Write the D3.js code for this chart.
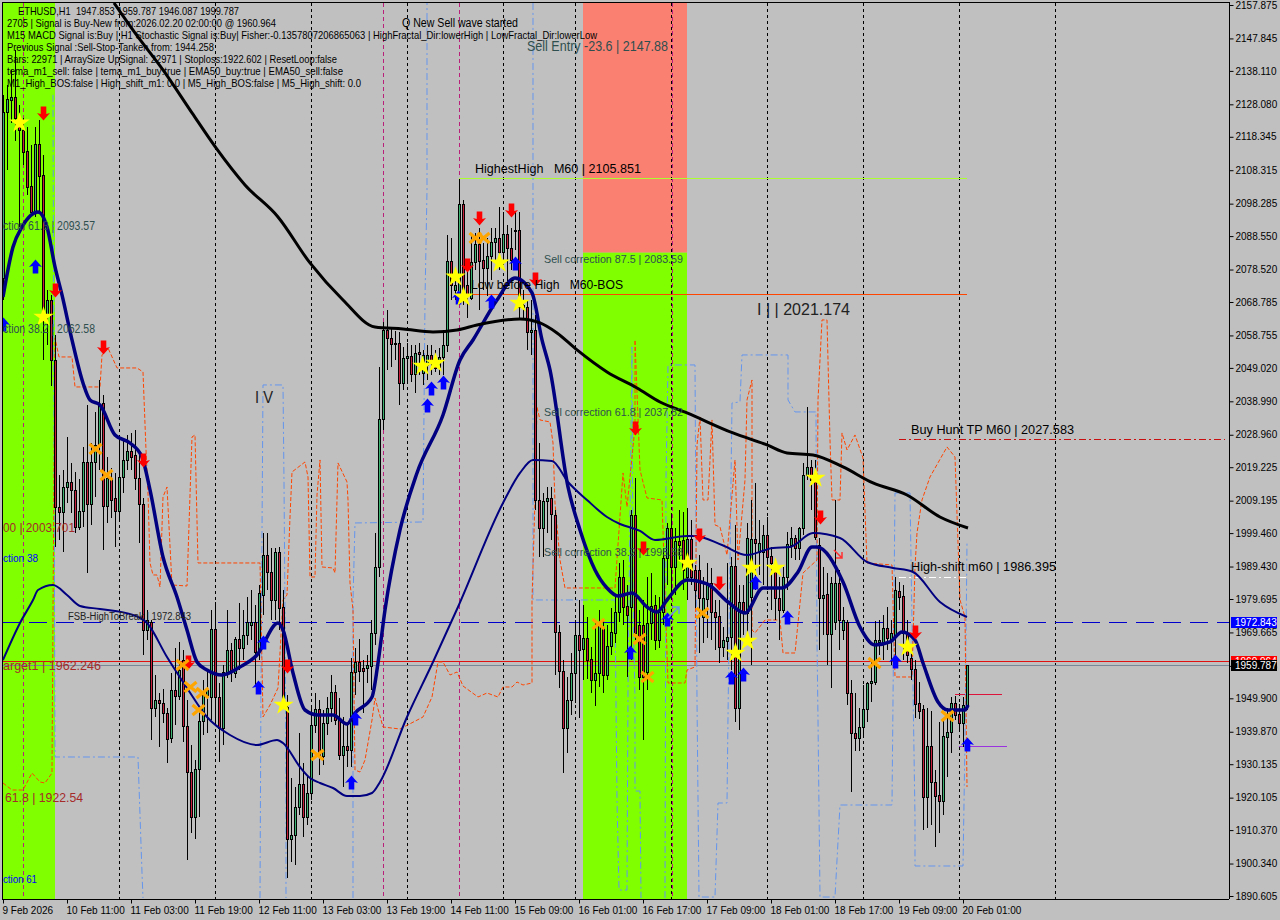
<!DOCTYPE html>
<html><head><meta charset="utf-8">
<script src="https://cdn.jsdelivr.net/npm/d3@7"></script>
<style>html,body{margin:0;padding:0;background:#c0c0c0;overflow:hidden}svg{display:block}text{font-family:"Liberation Sans",Arial,sans-serif}</style>
</head><body><svg id="c" width="1280" height="920"></svg>
<script>
const priceTicks=[2157.875,2147.845,2138.110,2128.080,2118.345,2108.315,2098.285,2088.550,2078.520,2068.785,2058.755,2049.020,2038.990,2028.960,2019.225,2009.195,1999.460,1989.430,1979.695,1969.665,1959.635,1949.900,1939.870,1930.135,1920.105,1910.370,1900.340,1890.605];
const timeTickBars=[0,16,32,48,64,80,96,112,128,144,160,176,192,208,224,240];
const timeTickLabels=["9 Feb 2026","10 Feb 11:00","11 Feb 03:00","11 Feb 19:00","12 Feb 11:00","13 Feb 03:00","13 Feb 19:00","14 Feb 11:00","15 Feb 09:00","16 Feb 01:00","16 Feb 17:00","17 Feb 09:00","18 Feb 01:00","18 Feb 17:00","19 Feb 09:00","20 Feb 01:00"];
const periodSeparators=[29,53,77,101,125,143,167,191,215,239,263];
const magentaLines=[5,95,114,167.25];
// open, high, low, close per hourly bar
const ohlc=[[2076.0,2130.9,2069.4,2125.8],[2125.8,2133.9,2108.4,2129.7],[2129.4,2138.4,2122.5,2130.3],[2130.3,2144.4,2117.1,2124.0],[2124.0,2127.9,2091.3,2120.4],[2120.4,2124.0,2109.9,2113.8],[2114.1,2121.3,2100.9,2103.3],[2103.6,2115.9,2094.6,2095.8],[2095.5,2121.3,2094.3,2116.2],[2116.2,2123.4,2095.8,2106.6],
[2106.9,2112.9,2051.4,2066.4],[2064.9,2072.4,2055.9,2069.4],[2069.4,2070.9,2043.6,2051.4],[2051.4,2058.9,1995.3,2007.3],[2007.3,2016.9,1997.4,2005.8],[2005.8,2018.4,1993.8,2013.3],[2013.3,2028.3,2008.5,2014.8],[2014.8,2020.5,2005.5,2012.4],[2012.4,2017.8,1999.5,2001.3],[2001.3,2015.7,2000.4,2006.1],
[2006.1,2025.3,2001.3,2020.8],[2020.8,2037.9,1987.5,2008.2],[2008.2,2026.5,2001.9,2020.8],[2020.8,2035.8,2010.3,2025.9],[2026.2,2045.4,2018.4,2037.9],[2038.5,2040.9,1994.4,2007.6],[2007.6,2022.3,2002.5,2016.0],[2016.0,2019.0,2004.0,2009.4],[2010.0,2017.5,1995.3,2006.1],[2006.1,2028.3,2003.4,2016.3],
[2016.3,2027.4,2011.5,2021.4],[2021.4,2028.9,2018.4,2024.1],[2024.1,2029.5,2018.4,2022.3],[2022.9,2030.4,2012.4,2016.0],[2016.0,2022.9,1996.5,2008.2],[2008.2,2010.0,1962.9,1970.4],[1970.4,1976.4,1967.4,1973.4],[1972.8,1973.4,1937.4,1947.0],[1947.0,1956.9,1944.3,1949.4],[1949.4,1951.5,1935.3,1948.5],
[1948.5,1952.7,1942.5,1945.5],[1945.5,1947.0,1930.5,1937.7],[1938.0,1957.5,1936.5,1952.4],[1952.4,1965.0,1941.9,1950.6],[1950.6,1966.8,1949.4,1958.4],[1961.4,1964.4,1936.8,1941.6],[1941.6,1949.4,1901.4,1927.8],[1927.8,1935.9,1909.5,1914.3],[1914.3,1931.4,1907.7,1928.7],[1928.7,1947.3,1914.3,1943.1],
[1943.1,1955.4,1938.9,1950.9],[1950.9,1958.4,1939.5,1952.4],[1950.3,1976.4,1943.4,1970.7],[1970.7,1978.8,1942.5,1950.3],[1950.3,1954.5,1930.8,1941.0],[1941.0,1959.9,1935.9,1957.8],[1957.8,1976.4,1956.0,1964.4],[1964.4,1966.5,1954.8,1957.8],[1957.5,1968.3,1956.0,1967.7],[1967.7,1978.5,1958.4,1965.0],
[1965.0,1976.4,1961.4,1968.9],[1968.9,1980.3,1965.9,1972.8],[1971.9,1982.4,1967.4,1972.8],[1972.8,1977.9,1953.3,1963.8],[1964.4,1983.9,1961.4,1981.5],[1980.9,1999.5,1974.9,1992.9],[1992.9,1999.5,1982.4,1987.8],[1987.8,1995.0,1973.4,1979.4],[1979.4,1995.0,1973.4,1993.8],[1993.8,1995.3,1970.4,1977.0],
[1977.3,1982.4,1947.9,1949.4],[1947.3,1950.9,1896.0,1907.7],[1907.7,1926.0,1900.8,1908.9],[1908.9,1923.3,1899.9,1917.3],[1917.3,1939.5,1914.9,1924.2],[1924.2,1930.5,1908.3,1914.3],[1914.3,1926.9,1911.9,1921.5],[1921.5,1947.3,1919.4,1941.9],[1941.9,1951.5,1939.5,1946.7],[1946.7,1949.4,1926.9,1932.9],
[1932.6,1946.4,1929.9,1942.5],[1942.5,1950.3,1938.9,1947.0],[1947.0,1956.9,1942.8,1951.8],[1951.8,1953.9,1941.9,1943.4],[1943.4,1950.0,1931.4,1932.9],[1932.9,1944.3,1923.3,1935.6],[1935.6,1941.9,1929.3,1934.4],[1934.4,1962.0,1929.3,1957.8],[1957.8,1965.0,1950.9,1960.8],[1960.8,1967.7,1954.8,1958.1],
[1959.0,1961.4,1945.5,1958.1],[1959.0,1962.9,1954.5,1959.9],[1959.6,1973.4,1952.4,1969.5],[1969.5,1999.5,1965.9,1989.3],[1989.3,2049.3,1986.3,2033.7],[2033.7,2062.8,2030.4,2060.4],[2060.4,2066.4,2048.4,2058.0],[2058.0,2061.0,2049.3,2056.2],[2056.5,2060.1,2051.4,2056.2],[2056.5,2059.8,2037.9,2044.5],
[2044.5,2055.3,2042.4,2052.0],[2052.0,2056.5,2044.8,2052.6],[2052.6,2055.9,2044.8,2047.2],[2047.2,2055.9,2041.5,2053.5],[2053.8,2056.5,2046.9,2053.2],[2047.5,2054.4,2043.9,2052.9],[2049.9,2055.9,2045.4,2052.9],[2052.9,2055.9,2046.9,2050.5],[2050.5,2054.4,2047.8,2049.0],[2049.3,2055.0,2046.9,2052.3],
[2052.3,2060.4,2046.9,2055.9],[2055.9,2088.9,2053.8,2081.1],[2081.1,2088.0,2069.4,2073.9],[2072.4,2076.9,2069.4,2073.9],[2071.5,2105.7,2069.4,2098.2],[2098.2,2099.4,2067.9,2070.9],[2073.9,2079.3,2064.0,2070.9],[2070.0,2089.5,2069.4,2080.8],[2080.8,2089.5,2078.4,2086.2],[2086.2,2091.0,2066.4,2081.1],
[2081.4,2086.5,2072.4,2079.0],[2079.0,2088.0,2070.6,2082.6],[2082.6,2091.0,2075.4,2086.8],[2086.8,2091.0,2080.5,2088.0],[2088.0,2097.3,2078.4,2083.8],[2083.8,2095.8,2079.9,2089.2],[2089.2,2091.9,2073.9,2085.0],[2085.0,2091.0,2078.4,2081.4],[2090.4,2095.8,2084.4,2090.1],[2090.4,2095.8,2063.4,2067.3],
[2067.9,2072.4,2063.4,2067.3],[2067.3,2069.4,2054.4,2059.8],[2059.8,2069.4,2052.9,2060.4],[2060.4,2064.9,2006.4,2009.4],[2009.4,2026.5,1992.3,2001.0],[2001.0,2011.5,1992.3,2009.1],[2009.1,2013.3,1999.5,2010.0],[2010.0,2013.3,1997.4,2005.2],[2004.9,2006.4,1956.9,1969.8],[1969.8,1971.9,1953.0,1958.1],
[1958.1,1961.4,1927.5,1941.0],[1941.0,1956.3,1933.5,1949.4],[1949.4,1963.5,1944.9,1957.5],[1957.5,1973.4,1948.5,1968.9],[1968.9,1979.4,1944.0,1964.4],[1964.7,1977.9,1955.4,1968.0],[1968.0,1974.3,1955.7,1961.4],[1961.7,1965.3,1951.5,1955.4],[1955.4,1972.5,1947.6,1957.5],[1957.5,1976.4,1953.3,1972.5],
[1971.3,1973.4,1951.5,1956.9],[1956.9,1971.9,1955.4,1965.6],[1965.6,1977.0,1962.9,1969.8],[1969.5,1980.9,1966.5,1975.8],[1975.8,1990.5,1972.8,1986.3],[1986.3,1991.4,1971.9,1977.3],[1977.6,1983.9,1956.3,1974.9],[1977.3,2006.4,1961.4,2004.9],[2004.9,2016.0,1967.4,1969.5],[1971.9,1976.4,1952.4,1956.3],
[1971.9,1979.4,1937.4,1956.3],[1957.8,1986.3,1952.4,1972.5],[1972.5,1987.5,1967.4,1977.6],[1977.9,1980.9,1964.4,1967.4],[1967.4,1980.3,1965.0,1975.8],[1975.8,1995.0,1971.9,1992.0],[1992.0,2002.5,1983.9,2001.0],[2001.0,2005.5,1979.4,1989.3],[1989.3,2001.0,1980.9,1997.1],[1997.1,2006.4,1991.4,1995.9],
[1997.4,2005.8,1982.4,1988.4],[1986.3,2007.0,1979.4,1997.7],[1997.7,2003.4,1983.9,1986.3],[1988.4,1989.9,1977.0,1982.4],[1988.4,1992.9,1963.5,1980.0],[1974.3,1986.3,1966.5,1980.0],[1979.7,1990.5,1968.0,1984.5],[1984.5,1989.0,1967.4,1975.8],[1975.8,1979.4,1964.4,1974.3],[1974.6,1979.4,1960.5,1965.3],
[1965.3,1971.3,1962.3,1967.4],[1967.1,1990.5,1961.4,1968.3],[1968.3,1992.3,1958.4,1989.6],[1989.6,2001.9,1942.8,1947.0],[1947.0,1983.9,1940.4,1978.8],[1978.8,1983.9,1968.9,1975.5],[1975.5,2002.5,1965.9,1998.0],[1980.3,2009.4,1959.9,1997.7],[1997.7,2014.5,1982.4,1996.5],[1993.8,2003.4,1986.9,1996.5],
[1993.8,2001.9,1983.9,1998.9],[1998.9,2004.3,1982.4,1992.3],[1992.6,1995.3,1976.4,1990.5],[1990.5,1991.4,1973.4,1980.0],[1980.0,1986.3,1967.4,1976.4],[1976.4,1989.3,1975.5,1986.3],[1986.3,1999.8,1982.4,1996.2],[1995.9,2001.3,1992.0,1998.0],[1998.0,1998.9,1991.4,1995.0],[1995.0,2001.3,1991.4,2001.0],
[2001.0,2020.5,1998.9,2016.9],[2016.9,2037.3,2015.4,2019.3],[2019.3,2021.4,2006.4,2015.4],[2015.4,2021.4,1997.4,1998.3],[1995.9,1998.0,1964.4,1980.0],[1980.0,1989.3,1968.9,1980.9],[1981.2,1987.5,1959.9,1969.2],[1969.2,1986.3,1953.0,1984.5],[1972.8,2009.4,1970.4,1984.5],[1984.5,1988.4,1964.4,1973.4],
[1970.4,1977.3,1967.4,1973.4],[1972.8,1973.4,1947.9,1951.5],[1951.5,1955.4,1921.8,1939.5],[1939.5,1951.5,1934.1,1938.0],[1938.0,1947.0,1934.1,1941.3],[1941.3,1953.9,1938.3,1946.7],[1946.7,1954.8,1942.8,1954.5],[1954.5,1961.4,1948.8,1955.1],[1954.8,1973.1,1953.9,1967.4],[1966.8,1973.4,1962.9,1967.4],
[1966.8,1974.9,1961.4,1971.0],[1971.0,1977.3,1964.4,1968.0],[1967.4,1973.4,1959.9,1969.5],[1968.9,1986.3,1961.4,1982.4],[1982.1,1984.8,1976.4,1980.3],[1980.6,1983.9,1961.4,1969.5],[1969.5,1973.4,1960.5,1962.9],[1962.0,1964.4,1955.4,1958.7],[1958.7,1961.4,1944.0,1948.2],[1948.5,1954.8,1943.7,1946.1],
[1946.7,1947.9,1910.4,1920.3],[1920.3,1947.0,1911.0,1935.6],[1935.6,1946.1,1911.9,1924.8],[1924.8,1928.4,1905.3,1920.6],[1920.9,1942.8,1909.5,1919.1],[1919.1,1943.4,1914.9,1938.6],[1938.3,1947.0,1926.3,1939.8],[1939.8,1950.3,1933.5,1948.5],[1948.5,1950.6,1943.4,1944.9],[1945.2,1948.2,1940.4,1942.5],
[1942.5,1950.3,1935.3,1947.9],[1947.9,1959.9,1946.4,1959.8]];
const slowAverage=[[27.75,2158.5],[33,2149.5],[40,2138.4],[47.25,2125.5],[53.25,2115.0],[60.5,2103.9],[68.75,2094.3],[76.75,2080.5],[85,2069.4],[93,2061.3],[100,2060.7],[107.5,2059.8],[113.5,2060.4],[118.5,2061.9],[129.25,2063.7],[134.25,2062.5],[138.5,2059.5],[143.5,2054.4],[151,2047.8],[158.5,2043.0],[164.25,2038.8],[171,2035.5],[182.5,2029.5],[191,2025.9],[196,2023.5],[202.5,2022.9],[210,2019.3],[217.5,2014.5],[226,2010.9],[234.25,2004.3],[241.25,2001.0]];
const fastAverage=[[0,2070.3],[2.5,2085.3],[4.75,2091.3],[8.75,2095.8],[11,2091.3],[13,2079.3],[14.75,2070.9],[17.25,2057.4],[20,2044.5],[21.75,2039.4],[24.25,2037.9],[28,2028.9],[31.75,2026.5],[34.75,2022.3],[36.75,2012.4],[40,1992.3],[43.5,1980.3],[46,1970.4],[48.5,1960.8],[51,1958.4],[54.75,1956.9],[59.25,1959.3],[63.5,1962.9],[68.75,1972.5],[70,1970.4],[72.5,1957.5],[75.5,1946.4],[78.75,1944.9],[82.5,1944.9],[86,1942.2],[88,1945.5],[92.25,1950.3],[93.75,1960.5],[95.5,1976.4],[99.25,2000.4],[103.5,2017.5],[110,2034.9],[114.25,2051.4],[117.5,2057.4],[123.5,2069.4],[128,2076.0],[132.25,2071.5],[134.75,2057.4],[136.75,2048.4],[141.25,2013.3],[144.25,2000.4],[148,1988.4],[151,1983.0],[153.75,1980.6],[157.25,1981.5],[161,1977.3],[163.5,1975.8],[166,1979.4],[171,1985.4],[176,1984.2],[181.25,1978.8],[185.5,1975.5],[190,1983.0],[194.75,1983.0],[198.75,1987.8],[202.25,1995.3],[203.5,1995.3],[210,1984.8],[214.25,1971.3],[218,1965.9],[221.75,1966.8],[224.75,1969.8],[228,1967.4],[230,1960.5],[233.75,1948.8],[236.25,1946.4],[240.5,1946.4],[241.25,1947.9]];
const midAverage=[[0,1961.4],[4.25,1972.5],[7.5,1979.4],[8.75,1982.4],[12.5,1983.9],[16,1980.9],[19.25,1977.6],[24.25,1976.7],[32.5,1974.9],[36,1972.5],[41,1962.3],[46,1953.0],[51,1944.3],[56.75,1938.9],[63.5,1935.9],[68.5,1937.4],[70,1936.5],[74.25,1929.3],[76.75,1926.0],[79.25,1924.5],[82.5,1923.0],[86,1920.6],[89.25,1920.6],[92.25,1921.5],[94.25,1924.8],[101,1944.3],[107.5,1960.8],[113.75,1977.3],[125,2008.5],[129.25,2017.5],[132.5,2021.4],[137.25,2021.1],[141.25,2014.8],[146,2009.4],[151,2004.3],[154.25,2002.2],[159.25,2000.1],[163,1997.4],[171,1998.6],[173,1998.6],[179.75,1995.9],[186,1992.9],[192.5,1995.0],[196.75,1995.3],[202.5,1999.5],[209.25,1998.0],[216,1990.8],[222.5,1989.0],[227.5,1987.8],[234.25,1978.8],[241,1974.3]];
const orangeBand=[[0,1924.5],[2.25,1922.4],[5,1922.4],[7.25,1927.5],[9.25,1924.8],[10.5,1924.5],[12.25,1927.5],[12.5,1976.4],[13,2058.0],[14,2052.3],[17.25,2052.3],[18,2043.3],[24.25,2043.3],[24.75,2052.9],[26.25,2055.0],[28.5,2049.0],[33.5,2049.0],[35,2047.8],[35.75,2024.4],[36.25,2011.5],[36.75,1990.5],[37.5,1986.9],[38.5,1986.9],[39.25,1983.3],[40,2010.3],[41,2013.3],[42.25,1983.9],[46,1983.6],[46.75,2010.9],[47.25,2028.3],[48,2028.9],[48.75,1990.5],[64.25,1990.5],[64.5,1976.4],[65,1944.3],[66.75,1947.9],[68.75,1953.0],[70,1979.4],[71,1980.9],[71.75,2004.3],[72.25,2017.8],[75.5,2020.8],[76.25,2016.3],[76.75,1986.3],[78,1986.3],[78.5,2010.9],[79.25,2021.4],[79.75,1989.3],[82.5,1989.0],[83,1987.5],[83.75,2020.5],[86,2014.8],[86.25,2009.4],[86.75,1984.5],[87.5,1976.4],[88,1928.4],[89.25,1927.8],[90.5,1931.4],[92.25,1943.4],[93,1950.0],[95,1941.3],[99.25,1940.7],[105,1944.3],[107.25,1950.3],[108.75,1960.8],[110,1960.8],[111.75,1956.9],[113.5,1957.8],[115,1953.6],[118.75,1950.3],[121,1951.5],[123.75,1950.3],[125,1953.3],[127.25,1953.3],[128.5,1954.8],[130,1953.9],[132.25,1954.5],[132.25,1979.4],[133,2009.4],[133.5,2037.3],[134.25,2033.4],[136.75,2032.8],[137.5,2026.5],[138,2008.5],[139.25,1991.4],[140.5,1983.0],[153,1983.0],[155,2017.5],[156,2007.3],[158,2031.3],[158,2057.4],[159.25,2018.4],[161,2010.0],[164.75,2009.4],[166.25,1954.5],[170.5,1954.5],[171,1958.4],[173,1959.3],[173.5,2025.9],[174.25,2034.3],[175,2009.4],[176.25,2009.4],[177.25,2033.4],[178,2001.9],[179.25,2001.3],[181,1992.9],[183,2021.4],[183.75,1991.4],[185.5,2015.4],[186,2039.4],[187.25,2045.4],[187.25,1970.4],[188,1969.5],[190.5,1973.4],[194.25,1973.4],[195,1963.5],[198,1963.5],[200,1987.5],[203.5,1991.4],[203.75,2039.4],[204.75,2063.4],[206,2063.4],[206.75,2027.4],[207.25,2009.4],[209.25,2009.4],[209.75,2029.5],[211,2024.4],[213,2028.9],[215,2022.0],[216,1990.5],[222.25,1989.9],[223,1956.3],[227.25,1956.3],[228,1989.3],[228.5,1999.5],[229.75,2009.4],[231.75,2016.3],[236,2025.3],[238,2022.3],[239.25,1979.4],[240.5,1974.3],[241,1923.3]];
const blueBandA=[[12.5,2130.9],[13,1932.3],[33.75,1932.3],[34.75,1897.5],[35,1890.0]];
const blueBandB=[[64.25,1890],[64.5,1955.4],[65,2043.9],[70,2043.9],[70.25,2014.8],[70.5,1976.4],[70.75,1921.5],[70.75,1890]];
const blueBandC=[[87.5,1890],[87.5,1979.4],[88,2002.5],[105,2002.8],[105.5,2069.4],[106,2102.4],[106,2158.5]];
const blueBandD=[[132.5,2158.5],[132.5,1979.4],[153,1979.4],[153.5,1919.4],[154,1892.4],[156,1892.4],[156.25,1953.3],[157.25,2055.3],[157.5,1979.4],[158,1950.3],[158,1922.1],[159.25,1922.1],[159.5,1890]];
const blueBandE=[[165.5,1890],[165.75,2015.4],[166.25,2049.9],[173,2049.9],[173.5,1949.4],[174,1890.3],[178,1890.3],[178.75,1918.5],[181,1918.5],[181.25,1944.3],[182.25,2038.5],[184.25,2038.8],[184.75,2052.9],[196.25,2052.9],[196.25,2039.4],[198,2035.8],[203.25,2035.8],[203.5,1967.4],[203.75,1943.4],[204.25,1890.3],[208,1890.3],[209.25,1917.9],[222.25,1917.9],[223,2011.5],[226.75,2011.5],[228,1914.3],[228,1899.6],[240,1899.6],[240.5,1937.4],[241,1996.8]];
const sellArrows=[[10,2125.5],[13,2072.4],[25,2055.3],[35,2021.4],[46.25,1960.8],[71,1959.6],[119,2094.0],[127,2096.4],[116,2079.9],[133,2075.7],[158,2031.0],[160,1995.0],[174,1998.9],[179,1984.5],[204.25,2004.3],[228,1969.8]];
const buyArrows=[[8,2079.3],[0,2061.9],[63.75,1953.0],[65,1966.5],[87,1924.5],[88,1943.7],[106,2037.6],[107,2042.7],[110,2044.5],[113.75,2070.0],[122,2068.8],[128,2080.2],[156.75,1963.5],[166,1973.4],[188,1984.5],[196,1974.0],[182,1956.0],[185,1956.9],[223,1960.8],[241,1935.9]];
const stars=[[4,2122.5],[10,2064.3],[70,1947.9],[104.75,2049.6],[108,2050.5],[113,2076.3],[115,2070.3],[124,2080.5],[129,2068.5],[171,1990.5],[203,2016.0],[187,1989.0],[193,1989.0],[183,1963.5],[186,1967.1],[226,1965.3]];
const crosses=[[23,2024.7],[25.75,2016.9],[44.75,1959.9],[46.75,1953.3],[49.75,1951.5],[48.75,1946.4],[148.75,1972.2],[159,1967.7],[161,1956.3],[174.75,1975.5],[78.5,1932.9],[118,2088.0],[120,2088.0],[217.75,1960.5],[236,1944.6]];
const hLevels=[
 {from:-0.25,to:306.5,price:1972.843,color:"#0000cd",dash:"18 9",w:1},
 {from:-0.25,to:306.5,price:1960.964,color:"#e01010",w:1},
 {from:-0.25,to:306.5,price:1959.787,color:"#778899",w:1},
 {from:114,to:241,price:2105.851,color:"#adff2f",w:1},
 {from:113,to:241,price:2071.2,color:"#ff4500",w:1},
 {from:224,to:305.5,price:2027.583,color:"#c81010",dash:"7 3 2 3",w:1},
 {from:224,to:241,price:1986.395,color:"#ffffff",dash:"7 3 2 3",w:1},
 {from:238,to:249.75,price:1951.2,color:"#dc143c",w:1},
 {from:239,to:251,price:1935.6,color:"#9a32e0",w:1}];
const commentLines=[
 ["ETHUSD,H1  1947.853 1959.787 1946.087 1999.787",18,11,221],
 ["2705 | Signal is Buy-New from:2026.02.20 02:00:00 @ 1960.964",7,23,269],
 ["M15 MACD Signal is:Buy | H1 Stochastic Signal is:Buy| Fisher:-0.1357807206865063 | HighFractal_Dir:lowerHigh | LowFractal_Dir:lowerLow",7,35,590],
 ["Previous Signal :Sell-Stop-Tanken from: 1944.258",7,47,207],
 ["Bars: 22971 | ArraySize UpSignal: 22971 | Stoploss:1922.602 | ResetLoop:false",7,59,330],
 ["tema_m1_sell: false | tema_m1_buy:true | EMA50_buy:true | EMA50_sell:false",7,71,336],
 ["M1_High_BOS:false | High_shift_m1: 0.0 | M5_High_BOS:false | M5_High_shift: 0.0",7,83,354]];
const chartLabels=[
 ["Q New Sell wave started",402,23,116,12,"#000"],
 ["Sell Entry -23.6 | 2147.88",527,46,141,14,"#2f4f4f"],
 ["HighestHigh   M60 | 2105.851",475,169,166,12,"#000"],
 ["Low before High   M60-BOS",471,285,152,12,"#000"],
 ["Sell correction 87.5 | 2083.59",544,259,139,11,"#2f4f4f"],
 ["Sell correction 61.8 | 2037.82",544,412,139,11,"#2f4f4f"],
 ["Sell correction 38.2 | 1995.58",544,552,139,11,"#2f4f4f"],
 ["I | | 2021.174",757,309,93,16,"#222"],
 ["I V",255,397,18,16,"#222"],
 ["Buy Hunt TP M60 | 2027.583",911,430,163,12,"#000"],
 ["High-shift m60 | 1986.395",911,567,145,12,"#000"],
 ["FSB-HighToBreak | 1972.843",68,616,123,10,"#222"],
 ["ction 61.8 | 2093.57",3,226,92,12,"#2f4f4f"],
 ["ction 38.2 | 2062.58",3,329,92,12,"#2f4f4f"],
 ["00 | 2003.701",3,527,72,13,"#a52a2a"],
 ["ction 38",3,558,35,11,"#0000ff"],
 ["arget1 | 1962.246",3,665,98,13,"#a52a2a"],
 ["61.8 | 1922.54",5,797,78,13,"#a52a2a"],
 ["ction 61",3,879,34,11,"#0000ff"]];
const priceTags=[[1960.964,"#ff0000"],[1972.843,"#0000ff"],[1959.787,"#000000"]];

const x=d3.scaleLinear().domain([0,306.5]).range([3,1229]);
const y=d3.scaleLinear().domain([2157.875,1890.605]).range([5,896]);
const svg=d3.select("#c");
svg.append("rect").attr("width",1280).attr("height",920).attr("fill","#c0c0c0");
svg.append("defs").append("clipPath").attr("id","plot").append("rect").attr("x",3).attr("y",3).attr("width",1226).attr("height",896);
const plot=svg.append("g").attr("clip-path","url(#plot)");

plot.append("rect").attr("x",x(0)).attr("y",3).attr("width",x(13)-x(0)).attr("height",896).attr("fill","#7fff00");
plot.append("rect").attr("x",x(145)).attr("y",3).attr("width",x(171)-x(145)).attr("height",y(2083.59)-3).attr("fill","#fa8072");
plot.append("rect").attr("x",x(145)).attr("y",y(2083.59)).attr("width",x(171)-x(145)).attr("height",899-y(2083.59)).attr("fill","#7fff00");

plot.selectAll(".sep").data(periodSeparators).join("line").attr("x1",d=>x(d)+.5).attr("x2",d=>x(d)+.5).attr("y1",3).attr("y2",899)
 .attr("stroke","#000").attr("stroke-dasharray","3 3");
plot.selectAll(".mag").data(magentaLines).join("line").attr("x1",d=>x(d)+.5).attr("x2",d=>x(d)+.5).attr("y1",3).attr("y2",899)
 .attr("stroke","#b8207a").attr("stroke-dasharray","4 3");

const ln=d3.line().x(d=>x(d[0])).y(d=>y(d[1]));
const smooth=d3.line().x(d=>x(d[0])).y(d=>y(d[1])).curve(d3.curveMonotoneX);
plot.selectAll(".lv").data(hLevels).join("line").attr("x1",d=>x(d.from)).attr("x2",d=>x(d.to)).attr("y1",d=>Math.round(y(d.price))+.5).attr("y2",d=>Math.round(y(d.price))+.5)
 .attr("stroke",d=>d.color).attr("stroke-width",d=>d.w).attr("stroke-dasharray",d=>d.dash||null);

[blueBandA,blueBandB,blueBandC,blueBandD,blueBandE].forEach(b=>plot.append("path").attr("d",ln(b)).attr("fill","none").attr("stroke","#6495ed").attr("stroke-width",1).attr("stroke-dasharray","7 3 2 3"));
plot.append("path").attr("d",ln(orangeBand)).attr("fill","none").attr("stroke","#ff4500").attr("stroke-width",1).attr("stroke-dasharray","4 2");

const bars=plot.append("g").selectAll("g").data(ohlc).join("g").attr("shape-rendering","crispEdges");
bars.append("line").attr("x1",(d,i)=>x(i)+.5).attr("x2",(d,i)=>x(i)+.5).attr("y1",d=>y(d[1])).attr("y2",d=>y(d[2])).attr("stroke","#000");
bars.append("rect").attr("x",(d,i)=>x(i)-.5).attr("width",2)
 .attr("y",d=>Math.round(y(Math.max(d[0],d[3])))+.5)
 .attr("height",d=>Math.max(1,Math.round(Math.abs(y(d[0])-y(d[3])))))
 .attr("fill",d=>d[3]>=d[0]?"#3cb371":"#c8203c").attr("stroke","#000");

plot.append("path").attr("d",smooth(midAverage)).attr("fill","none").attr("stroke","#000080").attr("stroke-width",2);
plot.append("path").attr("d",smooth(fastAverage)).attr("fill","none").attr("stroke","#000080").attr("stroke-width",3.5).attr("stroke-linejoin","round");
plot.append("path").attr("d",smooth(slowAverage)).attr("fill","none").attr("stroke","#000").attr("stroke-width",3).attr("stroke-linejoin","round");

const upArrow="M0,-7.5L6.5,0L2.8,-1L2.8,6.5L-2.8,6.5L-2.8,-1L-6.5,0Z";
plot.selectAll(".sa").data(sellArrows).join("path").attr("d",upArrow).attr("fill","#ff0000")
 .attr("transform",d=>`translate(${x(d[0])+.5},${y(d[1])}) rotate(180)`);
plot.selectAll(".ba").data(buyArrows).join("path").attr("d",upArrow).attr("fill","#0000ff")
 .attr("transform",d=>`translate(${x(d[0])+.5},${y(d[1])})`);
plot.append("path").attr("d","M668,618l10,-10m-6,-1l7,0l0,7").attr("fill","none").attr("stroke","#6495ed").attr("stroke-width",1.5);
plot.append("path").attr("d","M834,550l8,8m0,-6l0,6l-6,0").attr("fill","none").attr("stroke","#ff3030").attr("stroke-width",1.5);
const star=d3.symbol().type(d3.symbolStar).size(130);
plot.selectAll(".st").data(stars).join("path").attr("d",star).attr("fill","#ffff00")
 .attr("transform",d=>`translate(${x(d[0])+.5},${y(d[1])})`);
plot.selectAll(".xx").data(crosses).join("path").attr("d","M-6,-5L6,5M-6,5L6,-5").attr("fill","none").attr("stroke","#ffa500").attr("stroke-width",3.2)
 .attr("transform",d=>`translate(${x(d[0])+.5},${y(d[1])})`);

const txt=svg.append("g").attr("clip-path","url(#plot)");
txt.selectAll(".cm").data(commentLines).join("text").text(d=>d[0]).attr("x",d=>d[1]).attr("y",d=>d[2]+3.5)
 .attr("textLength",d=>d[3]).attr("lengthAdjust","spacingAndGlyphs").attr("font-size",10.5).attr("fill","#000").style("white-space","pre");
txt.selectAll(".lb").data(chartLabels).join("text").text(d=>d[0]).attr("x",d=>d[1]).attr("y",d=>d[2]+d[4]*.36)
 .attr("textLength",d=>d[3]).attr("lengthAdjust","spacingAndGlyphs").attr("font-size",d=>d[4]).attr("fill",d=>d[5]).style("white-space","pre");

const axR=svg.append("g").attr("transform","translate(1229.5,0)").call(d3.axisRight(y).tickValues(priceTicks).tickFormat(d3.format(".3f")).tickSize(4).tickPadding(2).tickSizeOuter(0));
axR.select(".domain").attr("stroke","#000").attr("d","M0,2V899");
axR.selectAll("text").attr("font-size",10).attr("font-family",'"Liberation Sans",Arial,sans-serif').attr("fill","#000");
const axB=svg.append("g").attr("transform","translate(0,899.5)").call(d3.axisBottom(x).tickValues(timeTickBars).tickFormat((d,i)=>timeTickLabels[i]).tickSize(4).tickPadding(3).tickSizeOuter(0));
axB.select(".domain").attr("stroke","#000").attr("d","M2,0H1229");
axB.selectAll("text").attr("font-size",10).attr("font-family",'"Liberation Sans",Arial,sans-serif').attr("fill","#000").attr("text-anchor","start").attr("dx",-1);
svg.append("line").attr("x1",2.5).attr("x2",2.5).attr("y1",2).attr("y2",899).attr("stroke","#000");
svg.append("line").attr("x1",2).attr("x2",1229).attr("y1",2.5).attr("y2",2.5).attr("stroke","#000");

const tag=svg.selectAll(".tag").data(priceTags).join("g").attr("transform",d=>`translate(1231,${Math.round(y(d[0]))-5})`);
tag.append("rect").attr("width",46).attr("height",11).attr("fill",d=>d[1]);
tag.append("text").text(d=>d3.format(".3f")(d[0])).attr("x",4).attr("y",9).attr("font-size",10).attr("fill","#fff");
</script></body></html>
